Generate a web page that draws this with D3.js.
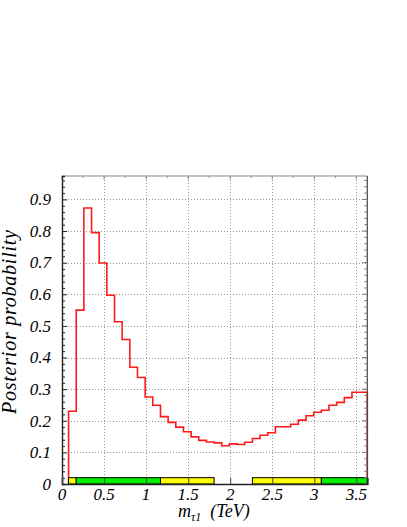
<html>
<head>
<meta charset="utf-8">
<script src="https://d3js.org/d3.v7.min.js"></script>
<style>
  body { margin: 0; padding: 0; background: #fff; overflow: hidden; }
</style>
</head>
<body>
<svg id="chart" width="407" height="527"></svg>
<script>
// posterior per bin (39 bins)
var values = [0.23, 0.55, 0.873, 0.795, 0.699, 0.597, 0.513, 0.457, 0.369, 0.337,
              0.275, 0.249, 0.213, 0.195, 0.18, 0.165, 0.149, 0.138, 0.133, 0.13,
              0.121, 0.127, 0.125, 0.132, 0.144, 0.154, 0.162, 0.181, 0.181, 0.189,
              0.202, 0.216, 0.227, 0.233, 0.249, 0.258, 0.273, 0.29, 0.29];
// interval per bin: 1 = 68% (green), 2 = 95% (yellow), 0 = none
var bands = [2, 1,1,1,1,1,1,1,1,1,1,1, 2,2,2,2,2,2,2, 0,0,0,0,0,
             2,2,2,2,2,2,2,2,2, 1,1,1,1,1,1];
var binLo = 0.078, binHi = 3.63;
var xTicks = [0, 0.5, 1, 1.5, 2, 2.5, 3, 3.5];
var xTickLabels = ["0", "0.5", "1", "1.5", "2", "2.5", "3", "3.5"];
var yTicks = [0, 0.1, 0.2, 0.3, 0.4, 0.5, 0.6, 0.7, 0.8, 0.9];
var yTickLabels = ["0", "0.1", "0.2", "0.3", "0.4", "0.5", "0.6", "0.7", "0.8", "0.9"];

var FONT = "'Liberation Serif', 'Times New Roman', 'DejaVu Serif', serif";
var margin = {top: 176, left: 62, right: 40, bottom: 43};
var W = 407, H = 527;
var svg = d3.select("#chart");

var x = d3.scaleLinear().domain([0, 3.63]).range([margin.left, W - margin.right + 0.3]);
var y = d3.scaleLinear().domain([0, 0.974]).range([H - margin.bottom, margin.top]);

var binW = (binHi - binLo) / values.length;
var edges = d3.range(values.length).map(function(i) { return binLo + i * binW; });

// grid
var grid = svg.append("g").attr("stroke", "#999").attr("stroke-dasharray", "1,2").attr("stroke-width", 1);
xTicks.slice(1).forEach(function(t) {
  grid.append("line").attr("x1", Math.round(x(t)) + 0.5).attr("x2", Math.round(x(t)) + 0.5)
    .attr("y1", y.range()[0]).attr("y2", y.range()[1]);
});
yTicks.slice(1).forEach(function(t) {
  grid.append("line").attr("y1", Math.round(y(t)) + 0.5).attr("y2", Math.round(y(t)) + 0.5)
    .attr("x1", x.range()[0]).attr("x2", x.range()[1]);
});

// histogram
var pts = [[binLo, 0]];
edges.forEach(function(e, i) { pts.push([e, values[i]]); });
pts.push([binHi, 0]);
var line = d3.line().x(function(d) { return x(d[0]); }).y(function(d) { return y(d[1]); })
  .curve(d3.curveStepAfter);
svg.append("path").attr("d", line(pts)).attr("fill", "none")
  .attr("stroke", "#ff1a1a").attr("stroke-width", 1.6);

// credibility bands (merged runs)
var runs = [];
bands.forEach(function(b, i) {
  var last = runs[runs.length - 1];
  if (b === 0) return;
  if (last && last.b === b && last.end === i) { last.end = i + 1; }
  else runs.push({b: b, start: i, end: i + 1});
});
svg.append("g").selectAll("rect").data(runs).enter().append("rect")
  .attr("x", function(d) { return x(binLo + d.start * binW); })
  .attr("width", function(d) { return (d.end - d.start) * binW * (x(1) - x(0)); })
  .attr("y", y(0.02))
  .attr("height", y(0) - y(0.02))
  .attr("fill", function(d) { return d.b === 1 ? "#00f000" : "#ffff00"; })
  .attr("stroke", "#000").attr("stroke-width", 1);

// frame
var x0 = x.range()[0], x1 = x.range()[1], yb = y.range()[0], yt = y.range()[1];
svg.append("line").attr("x1", x0).attr("x2", x1).attr("y1", yt).attr("y2", yt)
  .attr("stroke", "#888").attr("stroke-width", 1.2);
svg.append("line").attr("x1", x1).attr("x2", x1).attr("y1", yt).attr("y2", yb)
  .attr("stroke", "#444").attr("stroke-width", 1.2);

// top ticks
var topMinor = d3.range(0, 3.63, 0.25);
svg.append("g").selectAll("line").data(topMinor).enter().append("line")
  .attr("x1", function(d) { return x(d); }).attr("x2", function(d) { return x(d); })
  .attr("y1", yt).attr("y2", function(d, i) { return yt + (i % 2 ? 2 : 3.5); })
  .attr("stroke", "#888");

// right ticks
var yMinor = d3.range(0, 0.97, 0.02);
svg.append("g").selectAll("line").data(yMinor).enter().append("line")
  .attr("y1", function(d) { return y(d); }).attr("y2", function(d) { return y(d); })
  .attr("x1", x1).attr("x2", function(d, i) { return x1 - (i % 5 ? 3 : 5); })
  .attr("stroke", "#777");

// left axis
var yAxis = d3.axisRight(y).tickValues(yMinor).tickSize(3).tickFormat("");
var ga = svg.append("g").attr("transform", "translate(" + x0 + ",0)").call(yAxis);
ga.selectAll(".tick line").attr("x2", function(d, i) { return i % 5 ? 3 : 5; }).attr("stroke", "#222");
ga.select(".domain").attr("stroke", "#222").attr("stroke-width", 1.4);

svg.append("g").selectAll("text").data(yTicks).enter().append("text")
  .attr("x", 51).attr("y", function(d) { return y(d); }).attr("dy", "0.34em")
  .attr("text-anchor", "end").attr("font-size", 17)
  .attr("font-family", FONT).attr("font-style", "italic")
  .text(function(d, i) { return yTickLabels[i]; });

// bottom axis
var xAxis = d3.axisTop(x).tickValues(xTicks).tickSize(6).tickFormat("");
var gb = svg.append("g").attr("transform", "translate(0," + yb + ")").call(xAxis);
gb.selectAll(".tick line").attr("stroke", "#444");
gb.select(".domain").attr("stroke", "#222").attr("stroke-width", 1.6);

svg.append("g").selectAll("text").data(xTicks).enter().append("text")
  .attr("x", function(d) { return x(d); }).attr("y", 500)
  .attr("text-anchor", "middle").attr("font-size", 17)
  .attr("font-family", FONT).attr("font-style", "italic")
  .text(function(d, i) { return xTickLabels[i]; });

// labels
svg.append("text").attr("transform", "translate(16,322) rotate(-90)")
  .attr("text-anchor", "middle").attr("font-size", 20)
  .attr("textLength", 184).attr("lengthAdjust", "spacing")
  .attr("font-family", FONT).attr("font-style", "italic")
  .text("Posterior probability");

var xl = svg.append("text").attr("x", 178).attr("y", 517).attr("font-size", 18)
  .attr("font-family", FONT).attr("font-style", "italic");
xl.append("tspan").text("m");
xl.append("tspan").attr("dy", 4).attr("font-size", 12).text("τ1");
xl.append("tspan").attr("dy", -4).attr("dx", 9).text("(TeV)");
</script>
</body>
</html>
